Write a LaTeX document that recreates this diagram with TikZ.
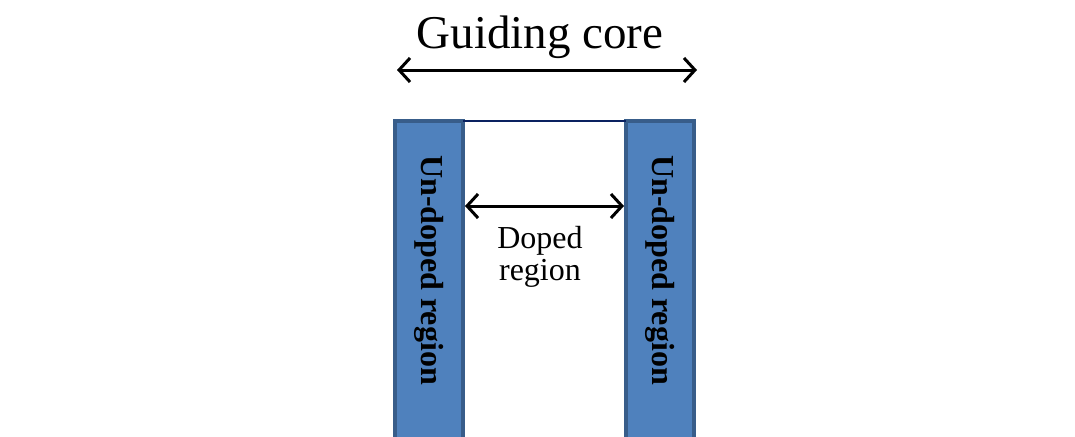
\documentclass[tikz,border=0pt]{standalone}
\usepackage{fontspec}
\setmainfont{Liberation Serif}
\usetikzlibrary{arrows.meta}
\definecolor{barfill}{HTML}{4F81BD}
\definecolor{barline}{HTML}{385D8A}
\definecolor{navy}{HTML}{0A2160}
\begin{document}
\begin{tikzpicture}[x=1pt,y=-1pt,
  bar/.style={draw=barline,fill=barfill,line width=3.5pt},
  dimarrow/.style={{Straight Barb[length=11pt,width=24pt,line width=3pt]}-{Straight Barb[length=11pt,width=24pt,line width=3pt]},line width=3pt},
  bartext/.style={rotate=-90,font=\fontsize{32}{36}\selectfont\bfseries,inner sep=0pt}]
\useasboundingbox (0,0) rectangle (1075,436);
\begin{scope}
\clip (0,0) rectangle (1075,436);
\draw[bar] (395,121) rectangle (463,450);
\draw[bar] (626,121) rectangle (694,450);
\end{scope}
\coordinate (lt) at (463,121);
\coordinate (rt) at (626,121);
\draw[navy,line width=2.5pt] (lt) -- (rt);
\node[font=\fontsize{47}{56}\selectfont,inner sep=0pt] (gc) at (540,37) {Guiding core};
\coordinate (ga) at (397,70);
\coordinate (gb) at (697,70);
\draw[dimarrow] (ga) -- (gb);
\coordinate (da) at (465,206);
\coordinate (db) at (624,206);
\draw[dimarrow] (da) -- (db);
\node[font=\fontsize{32}{32}\selectfont,align=center,inner sep=0pt] (dr) at (540,257) {Doped\\region};
\node[bartext] (ul) at (429,270) {Un-doped region};
\node[bartext] (ur) at (660,270) {Un-doped region};
\end{tikzpicture}
\end{document}
